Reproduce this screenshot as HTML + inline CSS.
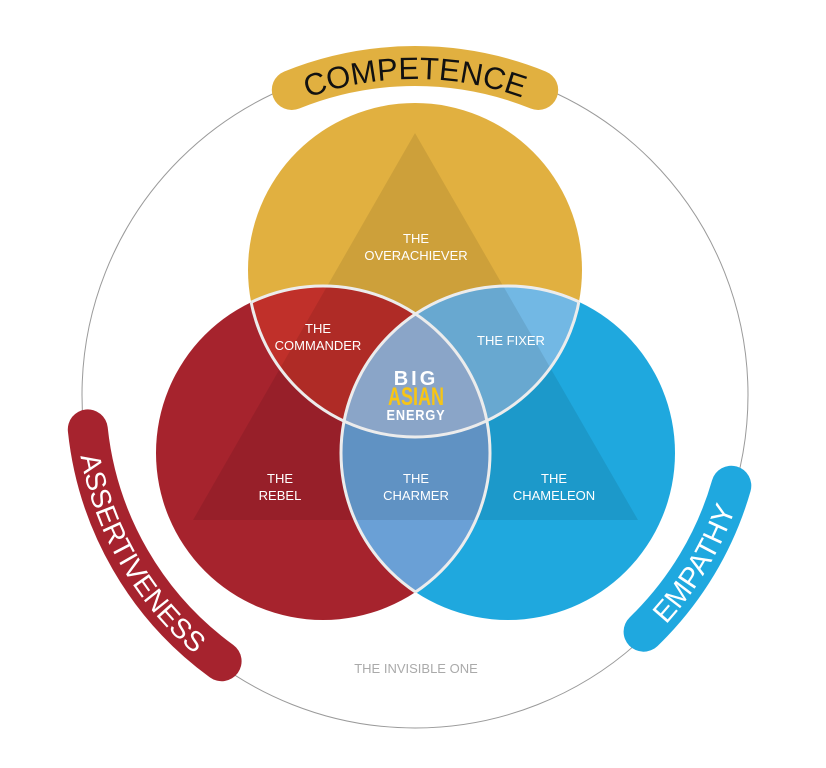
<!DOCTYPE html>
<html><head><meta charset="utf-8"><style>
html,body{margin:0;padding:0;background:#fff;}
svg{display:block;}
</style></head><body>
<svg width="826" height="768" viewBox="0 0 826 768" xmlns="http://www.w3.org/2000/svg" font-family="'Liberation Sans', sans-serif">
<defs>
  <clipPath id="cY"><circle cx="415" cy="270" r="167"/></clipPath>
  <clipPath id="cR"><circle cx="323" cy="453" r="167"/></clipPath>
  <clipPath id="cB"><circle cx="508" cy="453" r="167"/></clipPath>
  <clipPath id="uYB"><circle cx="415" cy="270" r="167"/><circle cx="508" cy="453" r="167"/></clipPath>
  <clipPath id="uYR"><circle cx="415" cy="270" r="167"/><circle cx="323" cy="453" r="167"/></clipPath>
  <clipPath id="uRB"><circle cx="323" cy="453" r="167"/><circle cx="508" cy="453" r="167"/></clipPath>
  <path id="tC" d="M211.9,152.9 A316,316 0 0 1 618.1,152.9"/>
  <path id="tA" d="M95.5,278.7 A340,340 0 0 0 356.0,729.8"/>
  <path id="tE" d="M468.2,730.8 A340,340 0 0 0 736.5,284.3"/>
</defs>

<circle cx="415" cy="395" r="333" fill="none" stroke="#9a9a9a" stroke-width="1"/>

<path d="M291.8,90.0 A329,329 0 0 1 538.2,90.0" fill="none" stroke="#e1b040" stroke-width="40" stroke-linecap="round"/>
<path d="M87.8,429.4 A329,329 0 0 0 221.6,661.2" fill="none" stroke="#a6232e" stroke-width="40" stroke-linecap="round"/>
<path d="M643.6,631.7 A329,329 0 0 0 731.3,485.7" fill="none" stroke="#1fa8df" stroke-width="40" stroke-linecap="round"/>
<text font-size="31" fill="#111"><textPath href="#tC" startOffset="50%" text-anchor="middle">COMPETENCE</textPath></text>
<text font-size="28" fill="#fff"><textPath href="#tA" startOffset="50%" text-anchor="middle">ASSERTIVENESS</textPath></text>
<text font-size="29" fill="#fff"><textPath href="#tE" startOffset="50%" text-anchor="middle">EMPATHY</textPath></text>

<circle cx="415" cy="270" r="167" fill="#e1b040"/>
<circle cx="323" cy="453" r="167" fill="#a6232d"/>
<circle cx="508" cy="453" r="167" fill="#1fa8de"/>
<g clip-path="url(#cY)"><circle cx="323" cy="453" r="167" fill="#c0302a"/></g>
<g clip-path="url(#cY)"><circle cx="508" cy="453" r="167" fill="#72b8e4"/></g>
<g clip-path="url(#cR)"><circle cx="508" cy="453" r="167" fill="#6aa0d6"/></g>
<g clip-path="url(#cY)"><g clip-path="url(#cR)"><circle cx="508" cy="453" r="167" fill="#98b5db"/></g></g>

<polygon points="415,133 193,520 638,520" fill="#000" fill-opacity="0.085"/>

<g fill="none" stroke="#ececec" stroke-width="3">
  <circle cx="415" cy="270" r="167" clip-path="url(#uRB)"/>
  <circle cx="323" cy="453" r="167" clip-path="url(#uYB)"/>
  <circle cx="508" cy="453" r="167" clip-path="url(#uYR)"/>
</g>

<g fill="#fff" font-size="13" text-anchor="middle">
  <text x="416" y="243">THE</text>
  <text x="416" y="260">OVERACHIEVER</text>
  <text x="318" y="333">THE</text>
  <text x="318" y="350">COMMANDER</text>
  <text x="511" y="345">THE FIXER</text>
  <text x="280" y="483">THE</text>
  <text x="280" y="500">REBEL</text>
  <text x="416" y="483">THE</text>
  <text x="416" y="500">CHARMER</text>
  <text x="554" y="483">THE</text>
  <text x="554" y="500">CHAMELEON</text>
</g>
<text x="416" y="673" font-size="13" fill="#aaa" text-anchor="middle">THE INVISIBLE ONE</text>

<g text-anchor="middle" font-weight="bold">
  <text x="416" y="385" font-size="20" fill="#fff" letter-spacing="3">BIG</text>
  <text x="416" y="405" font-size="25" fill="#f7c515" transform="translate(416 0) scale(0.72 1) translate(-416 0)" font-family="'Liberation Sans Narrow','Liberation Sans', sans-serif">ASIAN</text>
  <text x="416" y="420" font-size="15" fill="#fff" letter-spacing="1" transform="translate(416 0) scale(0.85 1) translate(-416 0)" font-family="'Liberation Sans Narrow','Liberation Sans', sans-serif">ENERGY</text>
</g>
</svg>
</body></html>
